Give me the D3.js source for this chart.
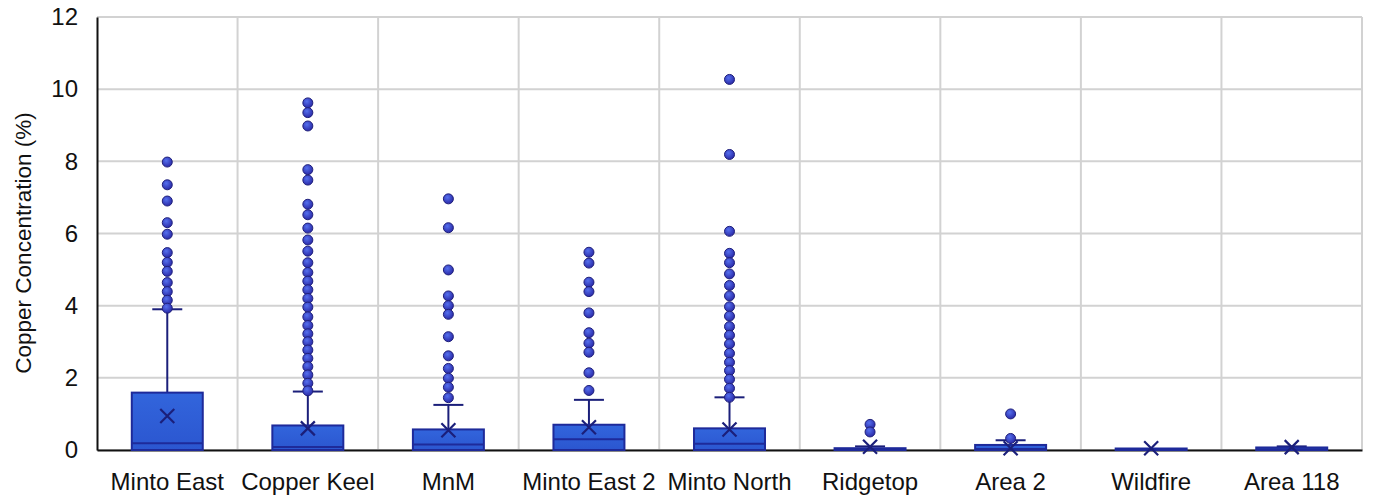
<!DOCTYPE html>
<html><head><meta charset="utf-8">
<script src="https://cdn.jsdelivr.net/npm/d3@7"></script>
<style>body{margin:0;background:#fff;}svg{display:block;font-family:"Liberation Sans",Arial,sans-serif;}</style>
</head><body>
<svg id="c" width="1374" height="500"></svg>
<script>
const categories = ["Minto East","Copper Keel","MnM","Minto East 2","Minto North","Ridgetop","Area 2","Wildfire","Area 118"];
const q1Values = [0.0, 0.0, 0.0, 0.0, 0.0, 0.0, 0.0, 0.0, 0.0];
const medianValues = [0.19, 0.08, 0.15, 0.3, 0.17, 0.02, 0.03, 0.01, 0.02];
const q3Values = [1.59, 0.68, 0.57, 0.7, 0.6, 0.05, 0.14, 0.01, 0.07];
const whiskerHigh = [3.9, 1.62, 1.25, 1.39, 1.46, 0.1, 0.27, 0.02, 0.1];
const meanValues = [0.94, 0.6, 0.55, 0.63, 0.57, 0.09, 0.05, 0.05, 0.08];
const outlierValues = [
  [7.98, 7.35, 6.9, 6.3, 5.98, 5.47, 5.2, 4.95, 4.64, 4.39, 4.15, 3.93],
  [9.62, 9.35, 8.98, 7.77, 7.48, 6.81, 6.52, 6.15, 5.82, 5.51, 5.19, 4.92, 4.68, 4.44, 4.2, 3.96, 3.69, 3.45, 3.22, 3.0, 2.77, 2.54, 2.31, 2.08, 1.85, 1.64],
  [6.96, 6.16, 4.99, 4.27, 4.0, 3.76, 3.14, 2.61, 2.26, 1.99, 1.74, 1.45],
  [5.48, 5.18, 4.65, 4.39, 3.8, 3.25, 2.96, 2.71, 2.14, 1.65],
  [10.27, 8.19, 6.06, 5.45, 5.19, 4.88, 4.56, 4.27, 3.97, 3.71, 3.42, 3.18, 2.94, 2.68, 2.43, 2.2, 1.96, 1.71, 1.46],
  [0.71, 0.5],
  [1.0, 0.32],
  [],
  []
];
const yTicks = [0, 2, 4, 6, 8, 10, 12];
const yTitle = "Copper Concentration (%)";

const svg = d3.select("#c");
const m = {left: 97, right: 1362, top: 17, bottom: 450};
const x = d3.scaleBand().domain(categories).range([m.left, m.right]).paddingInner(0).paddingOuter(0);
const y = d3.scaleLinear().domain([0, 12]).range([m.bottom, m.top]);

const defs = svg.append("defs");
const g1 = defs.append("radialGradient").attr("id","dot").attr("cx","40%").attr("cy","35%").attr("r","65%");
g1.append("stop").attr("offset","0%").attr("stop-color","#5570ee");
g1.append("stop").attr("offset","100%").attr("stop-color","#2a2aa8");
const g2 = defs.append("linearGradient").attr("id","box").attr("x1","0").attr("y1","0").attr("x2","0").attr("y2","1");
g2.append("stop").attr("offset","0%").attr("stop-color","#3265dc");
g2.append("stop").attr("offset","100%").attr("stop-color","#2b56d0");

// grid
svg.append("g").selectAll("line.h").data(yTicks).join("line")
  .attr("x1", m.left).attr("x2", m.right).attr("y1", d => y(d)).attr("y2", d => y(d))
  .attr("stroke", "#d2d2d2").attr("stroke-width", 2);
const bounds = categories.map(c => x(c)).concat([m.right]).slice(1);
svg.append("g").selectAll("line.v").data(bounds).join("line")
  .attr("x1", d => d).attr("x2", d => d).attr("y1", m.top).attr("y2", m.bottom)
  .attr("stroke", "#d2d2d2").attr("stroke-width", 2);

// axes
const yAxis = svg.append("g").attr("transform", `translate(${m.left},0)`)
  .call(d3.axisLeft(y).tickValues(yTicks).tickSize(0).tickPadding(19));
yAxis.select(".domain").attr("stroke", "#111").attr("stroke-width", 2);
yAxis.selectAll("text").attr("font-size", 24).attr("fill", "#111").attr("font-family", "Liberation Sans, Arial, sans-serif");

const xAxis = svg.append("g").attr("transform", `translate(0,${m.bottom})`)
  .call(d3.axisBottom(x).tickSize(0).tickPadding(23));
xAxis.select(".domain").attr("stroke", "#111").attr("stroke-width", 2);
xAxis.selectAll("text").attr("font-size", 24).attr("fill", "#111").attr("font-family", "Liberation Sans, Arial, sans-serif");

svg.append("text").attr("transform", `translate(31,243) rotate(-90)`)
  .attr("text-anchor", "middle").attr("font-size", 22.5).attr("fill", "#111").text(yTitle);

const bw = x.bandwidth() * 0.505;
const cx = c => x(c) + x.bandwidth() / 2;
const navy = "#1b1f7a";

categories.forEach((c, i) => {
  const g = svg.append("g");
  const X = cx(c);
  // whisker
  g.append("line").attr("x1", X).attr("x2", X).attr("y1", y(q3Values[i])).attr("y2", y(whiskerHigh[i]))
    .attr("stroke", navy).attr("stroke-width", 2);
  g.append("line").attr("x1", X - 15).attr("x2", X + 15).attr("y1", y(whiskerHigh[i])).attr("y2", y(whiskerHigh[i]))
    .attr("stroke", navy).attr("stroke-width", 2);
  // box
  const h = Math.max(1.5, y(q1Values[i]) - y(q3Values[i]));
  g.append("rect").attr("x", X - bw / 2).attr("width", bw).attr("y", y(q1Values[i]) - h).attr("height", h)
    .attr("fill", "url(#box)").attr("stroke", "#1e2a9a").attr("stroke-width", 2);
  g.append("line").attr("x1", X - bw / 2).attr("x2", X + bw / 2).attr("y1", y(medianValues[i])).attr("y2", y(medianValues[i]))
    .attr("stroke", "#1e2a9a").attr("stroke-width", 2);
  // outliers
  g.selectAll("circle").data(outlierValues[i]).join("circle")
    .attr("cx", X).attr("cy", d => y(d)).attr("r", 5)
    .attr("fill", "url(#dot)").attr("stroke", "#20207a").attr("stroke-width", 1);
  // mean X
  const my = y(meanValues[i]), s = 7;
  g.append("path").attr("d", `M${X - s},${my - s}L${X + s},${my + s}M${X - s},${my + s}L${X + s},${my - s}`)
    .attr("stroke", navy).attr("stroke-width", 2.2).attr("fill", "none");
});
</script>
</body></html>
